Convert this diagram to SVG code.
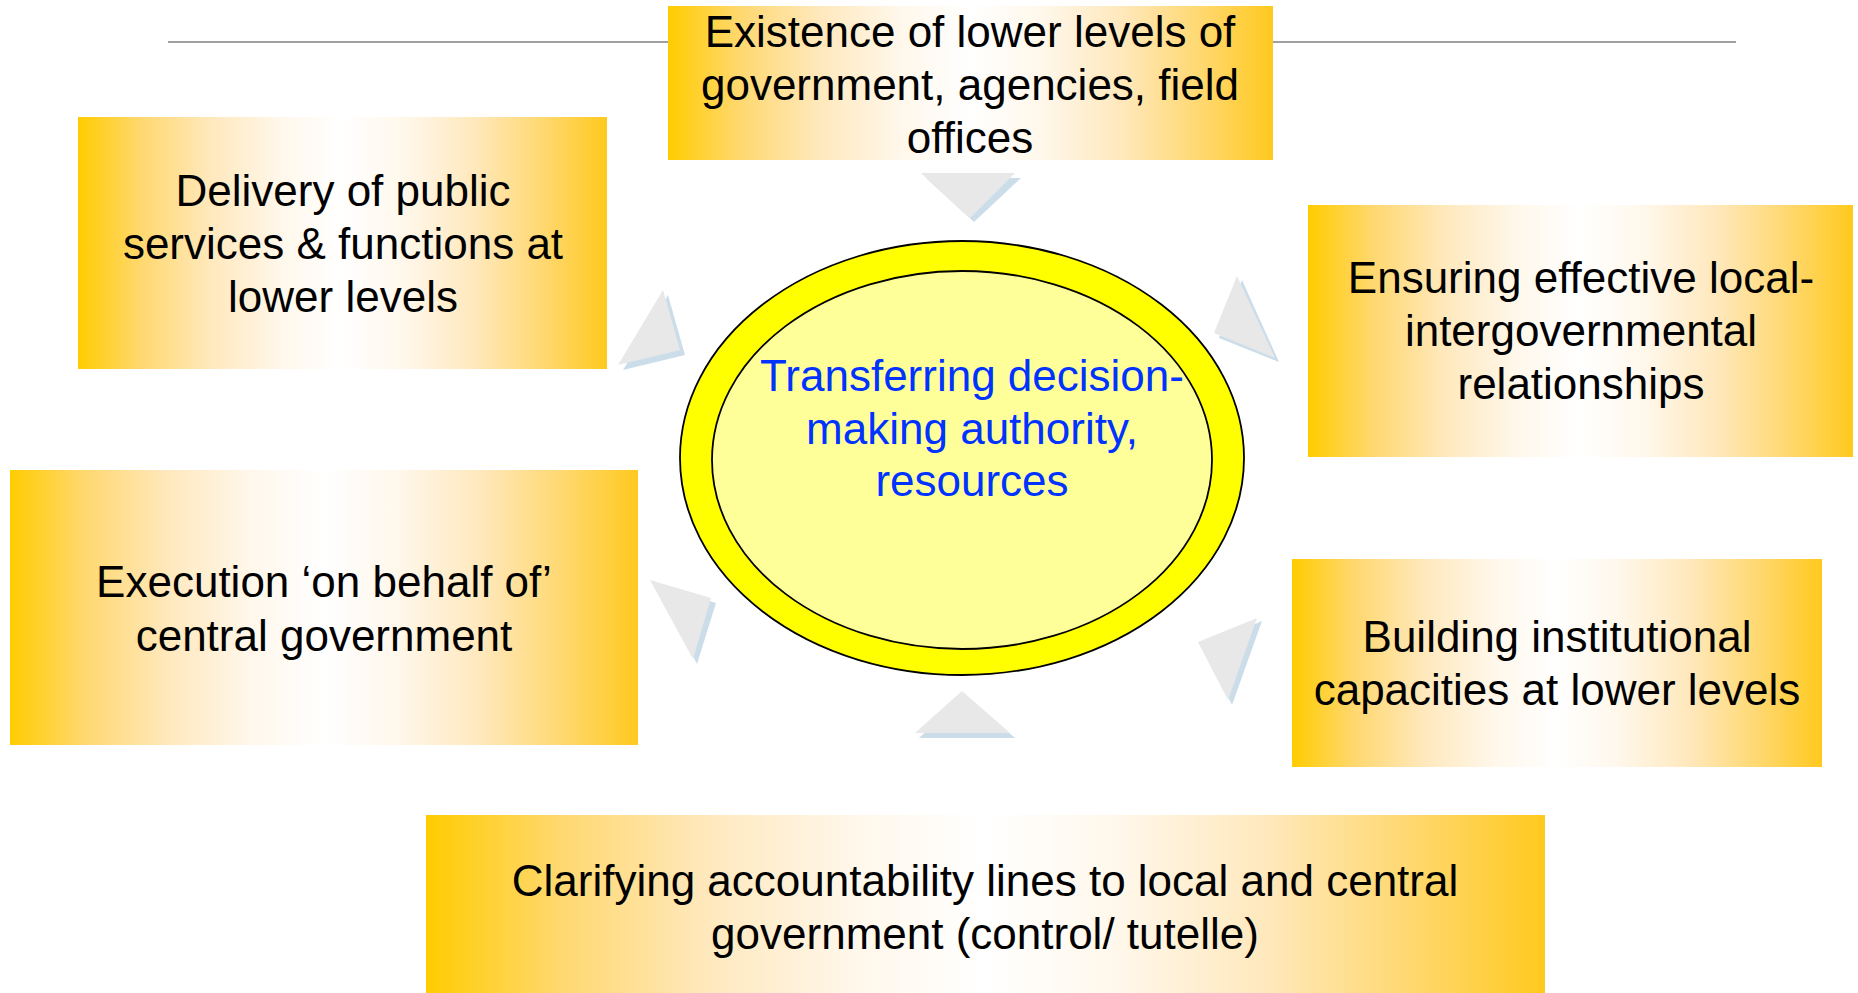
<svg xmlns="http://www.w3.org/2000/svg" width="1858" height="993" viewBox="0 0 1858 993">
  <defs>
    <linearGradient id="gold" x1="0" y1="0" x2="1" y2="0">
      <stop offset="0" stop-color="#FFCC00"/>
      <stop offset="0.12" stop-color="#FFD870"/>
      <stop offset="0.25" stop-color="#FFE8BC"/>
      <stop offset="0.38" stop-color="#FFF7EA"/>
      <stop offset="0.5" stop-color="#FFFFFF"/>
      <stop offset="0.62" stop-color="#FFF7EA"/>
      <stop offset="0.75" stop-color="#FFE8BC"/>
      <stop offset="0.88" stop-color="#FFD870"/>
      <stop offset="1" stop-color="#FFC91E"/>
    </linearGradient>
  </defs>
  <style>
    .box { fill: url(#gold); }
    .lbl { font-family: "Liberation Sans", Arial, sans-serif; font-size: 44px; fill: #000000; text-anchor: middle; }
    .ctr { font-family: "Liberation Sans", Arial, sans-serif; font-size: 44px; fill: #0033FF; text-anchor: middle; }
    .tri { fill: #E8E8E8; }
    .sh { fill: #CCDDEA; }
  </style>
  <rect width="1858" height="993" fill="#FFFFFF"/>
  <line x1="168" y1="42" x2="1736" y2="42" stroke="#A0A0A0" stroke-width="2"/>

  <g id="connectors">
    <polygon class="sh" points="926,178 1021,178 974,222"/>
    <polygon class="tri" points="921,173 1015,173 970,218"/>
    <polygon class="sh" points="668,295 623,370 685,355"/>
    <polygon class="tri" points="663,290 618,365 680,350"/>
    <polygon class="sh" points="1242,280 1279,362 1219,338"/>
    <polygon class="tri" points="1237,276 1275,358 1214,333"/>
    <polygon class="sh" points="1262,621 1232,705 1203,646"/>
    <polygon class="tri" points="1257,618 1228,700 1198,642"/>
    <polygon class="sh" points="655,584 716,603 697,664"/>
    <polygon class="tri" points="650,580 711,598 693,659"/>
    <polygon class="sh" points="919,738 1015,738 966,696"/>
    <polygon class="tri" points="915,733 1010,733 962,691"/>
  </g>

  <g id="center">
    <ellipse cx="962" cy="458" rx="282" ry="217" fill="#FFFF00" stroke="#000000" stroke-width="1.8"/>
    <ellipse cx="962" cy="460" rx="250" ry="189" fill="#FFFF99" stroke="#000000" stroke-width="1.8"/>
    <text class="ctr"><tspan x="972" y="391">Transferring decision-</tspan><tspan x="972" y="444">making authority,</tspan><tspan x="972" y="496">resources</tspan></text>
  </g>

  <g id="node-existence">
    <rect class="box" x="668" y="6" width="605" height="154"/>
    <text class="lbl"><tspan x="970" y="47">Existence of lower levels of</tspan><tspan x="970" y="100">government, agencies, field</tspan><tspan x="970" y="153">offices</tspan></text>
  </g>

  <g id="node-delivery">
    <rect class="box" x="78" y="117" width="529" height="252"/>
    <text class="lbl"><tspan x="343" y="206">Delivery of public</tspan><tspan x="343" y="259">services &amp; functions at</tspan><tspan x="343" y="312">lower levels</tspan></text>
  </g>

  <g id="node-ensuring">
    <rect class="box" x="1308" y="205" width="545" height="252"/>
    <text class="lbl"><tspan x="1581" y="293">Ensuring effective local-</tspan><tspan x="1581" y="346">intergovernmental</tspan><tspan x="1581" y="399">relationships</tspan></text>
  </g>

  <g id="node-execution">
    <rect class="box" x="10" y="470" width="628" height="275"/>
    <text class="lbl"><tspan x="324" y="597">Execution ‘on behalf of’</tspan><tspan x="324" y="651">central government</tspan></text>
  </g>

  <g id="node-building">
    <rect class="box" x="1292" y="559" width="530" height="208"/>
    <text class="lbl"><tspan x="1557" y="652">Building institutional</tspan><tspan x="1557" y="705">capacities at lower levels</tspan></text>
  </g>

  <g id="node-clarifying">
    <rect class="box" x="426" y="815" width="1119" height="178"/>
    <text class="lbl"><tspan x="985" y="896">Clarifying accountability lines to local and central</tspan><tspan x="985" y="949">government (control/ tutelle)</tspan></text>
  </g>
</svg>
